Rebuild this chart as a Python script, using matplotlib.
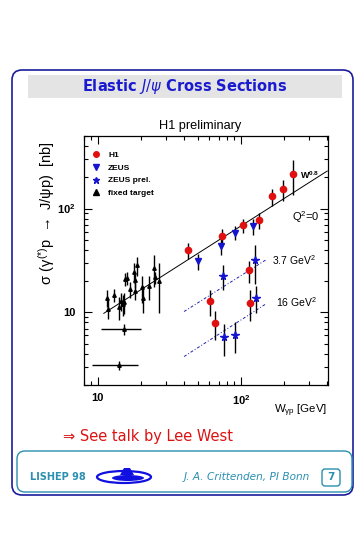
import matplotlib
matplotlib.use('Agg')
import matplotlib.pyplot as plt
from matplotlib.patches import FancyBboxPatch, Ellipse, Polygon
from matplotlib.lines import Line2D
from matplotlib.ticker import LogLocator, NullFormatter, FixedLocator, FixedFormatter

plt.rcParams['font.family'] = ['Liberation Sans', 'DejaVu Sans']
plt.rcParams['mathtext.default'] = 'regular'

# --- data ---
# H1, photoproduction (Q^2 = 0)
h1_w = [42.8, 73.3, 102.8, 134, 165.6, 197, 230]
h1_s = [40, 54, 69, 77, 131, 153, 214]
h1_e = [7, 10, 11, 13, 24, 35, 80]
# H1, electroproduction (3.7 and 16 GeV^2)
h1dis_w = [60.7, 114, 65.8, 115.6]
h1dis_s = [12.9, 25.4, 7.9, 12.3]
h1dis_e = [3.7, 6, 2.5, 4]
# ZEUS
zeus_w = [50.2, 72.1, 90.8, 122]
zeus_s = [31.3, 44, 58.8, 67.6]
zeus_e = [5.5, 8, 9, 12]
# ZEUS preliminary
zprel_w = [75.1, 124.7, 76, 90.8, 126.7]
zprel_s = [22.5, 31.9, 5.8, 6.05, 13.9]
zprel_e = [6, 13, 2, 2, 4]
# fixed target
ft_w = [11.5, 11.8, 12.9, 14.0, 14.4, 14.9, 15.2, 15.5, 16.0, 16.8,
        17.8, 18.1, 18.9, 18.3, 20.2, 20.7, 22.7, 24.6, 24.9, 26.6]
ft_s = [13.9, 10.9, 14.7, 11.2, 12.9, 12.0, 12.5, 20.9, 21.5, 16.7,
        24.6, 20.6, 28.5, 16.1, 17.4, 13.9, 17.8, 26.5, 21.7, 19.9]
ft_e = [2.7, 2.2, 2.0, 2.8, 2.5, 2.7, 2.8, 3, 3, 3,
        5.5, 3.5, 6, 3, 5, 4, 4.5, 9, 3, 10]
# fixed target with wide W bins
ftb_w = [15.2, 14.0]
ftb_s = [6.9, 3.1]
ftb_e = [0.9, 0.3]
ftb_wlo = [10.5, 9.1]
ftb_whi = [20.1, 19.1]
# power-law lines
fit0_w, fit0_s = [11, 400], [9.8, 230]
fit37_w, fit37_s = [40, 152], [10.2, 32.6]
fit16_w, fit16_s = [40, 151], [3.76, 12.2]

navy = '#1c1c9c'
teal = '#2a8fb0'

fig = plt.figure(figsize=(3.63, 5.35), dpi=100)

# slide frame in pixel coordinates
bg = fig.add_axes([0, 0, 1, 1], zorder=0)
bg.set_xlim(0, 363)
bg.set_ylim(535, 0)
bg.axis('off')

bg.add_patch(FancyBboxPatch((12, 70), 341, 425, boxstyle='round,pad=0,rounding_size=10',
                            fc='white', ec=navy, lw=1.2))
bg.add_patch(FancyBboxPatch((28, 75), 314, 23, boxstyle='square,pad=0',
                            fc='#e4e4e4', ec='none'))
bg.text(185, 87, r'Elastic $\it{J/\psi}$ Cross Sections', ha='center', va='center',
        fontsize=10.5, fontweight='bold', color='#1a1ad0', family='DejaVu Sans')

bg.text(200, 126, 'H1 preliminary', ha='center', va='center', fontsize=9.2)
bg.text(47, 213, r'$\sigma\ (\gamma^{(*)}p\ \rightarrow\ J/\psi p)$  [nb]', rotation=90,
        ha='center', va='center', fontsize=10.5)
bg.text(301, 411, r'W$_{\gamma p}$ [GeV]', ha='center', va='center', fontsize=8.2)

bg.text(63, 436, '\u21d2 See talk by Lee West', ha='left', va='center',
        fontsize=10.5, color='#dd1111', family='DejaVu Sans')

# footer
bg.add_patch(FancyBboxPatch((17, 451), 335, 41, boxstyle='round,pad=0,rounding_size=8',
                            fc='white', ec=teal, lw=1.0))
bg.text(30, 477, 'LISHEP 98', ha='left', va='center', fontsize=7,
        fontweight='bold', color=teal, family='DejaVu Sans')
bg.add_patch(Ellipse((124, 477), 54, 12, fc='none', ec='#1010e0', lw=1.6))
bg.add_patch(Ellipse((128, 478), 32, 6, fc='#1010e0', ec='none'))
bg.add_patch(Polygon([[120, 475], [124, 468], [130, 468], [134, 475]], fc='#1010e0', ec='none'))
bg.text(247, 477, 'J. A. Crittenden, PI Bonn', ha='center', va='center', fontsize=7.6,
        style='italic', color=teal, family='DejaVu Sans')
bg.add_patch(FancyBboxPatch((322, 469), 18, 17, boxstyle='round,pad=0,rounding_size=3',
                            fc='white', ec=teal, lw=1.0))
bg.text(331, 477.5, '7', ha='center', va='center', fontsize=7.5, fontweight='bold',
        color=teal, family='DejaVu Sans')

# --- main plot ---
ax = fig.add_axes([84 / 363, 1 - 385 / 535, 244 / 363, 249 / 535], zorder=1)
ax.set_facecolor('none')
ax.set_xscale('log')
ax.set_yscale('log')
ax.set_xlim(8, 405)
ax.set_ylim(2, 500)

ebar = dict(ecolor='black', elinewidth=1.0, capsize=0, linestyle='none')

ax.plot(fit0_w, fit0_s, color='black', lw=0.7)
ax.plot(fit37_w, fit37_s, color='#2020b0', lw=0.7, linestyle=(0, (3, 2, 1, 2)))
ax.plot(fit16_w, fit16_s, color='#2020b0', lw=0.7, linestyle=(0, (3, 2, 1, 2)))

ax.errorbar(ft_w, ft_s, yerr=ft_e, fmt='^', color='black', ms=2.5, **ebar)
ax.errorbar(ftb_w, ftb_s, yerr=ftb_e,
            xerr=[[w - lo for w, lo in zip(ftb_w, ftb_wlo)],
                  [hi - w for w, hi in zip(ftb_w, ftb_whi)]],
            fmt='^', color='black', ms=2.5, **ebar)
ax.errorbar(h1_w, h1_s, yerr=h1_e, fmt='o', color='#e01010', ms=4.5, **ebar)
ax.errorbar(h1dis_w, h1dis_s, yerr=h1dis_e, fmt='o', color='#e01010', ms=4.5, **ebar)
ax.errorbar(zeus_w, zeus_s, yerr=zeus_e, fmt='v', color='#1515d0', ms=4.5, **ebar)
ax.errorbar(zprel_w, zprel_s, yerr=zprel_e, fmt='*', color='#1515d0', ms=5.5, **ebar)

ax.text(300, 209, r'W$^{0.8}$', ha='center', va='center', fontsize=6.5, fontweight='bold')
ax.text(226, 82, r'Q$^2$=0', ha='left', va='center', fontsize=8)
ax.text(164, 31.8, r'3.7 GeV$^2$', ha='left', va='center', fontsize=7.5)
ax.text(176, 12.6, r'16 GeV$^2$', ha='left', va='center', fontsize=7.5)

handles = [
    Line2D([], [], marker='o', color='#e01010', ls='none', ms=4),
    Line2D([], [], marker='v', color='#1515d0', ls='none', ms=4),
    Line2D([], [], marker='*', color='#1515d0', ls='none', ms=5),
    Line2D([], [], marker='^', color='black', ls='none', ms=4),
]
leg = ax.legend(handles, ['H1', 'ZEUS', 'ZEUS prel.', 'fixed target'], loc='upper left',
                bbox_to_anchor=(0.0, 0.97), frameon=False, fontsize=6,
                handlelength=1.0, handletextpad=1.0, labelspacing=0.6, borderaxespad=0.5)
for t in leg.get_texts():
    t.set_fontweight('bold')

ax.xaxis.set_major_locator(FixedLocator([10, 100]))
ax.xaxis.set_major_formatter(FixedFormatter(['10', r'10$^2$']))
ax.yaxis.set_major_locator(FixedLocator([10, 100]))
ax.yaxis.set_major_formatter(FixedFormatter(['10', r'10$^2$']))
ax.xaxis.set_minor_locator(LogLocator(base=10, subs=range(2, 10)))
ax.yaxis.set_minor_locator(LogLocator(base=10, subs=range(2, 10)))
ax.xaxis.set_minor_formatter(NullFormatter())
ax.yaxis.set_minor_formatter(NullFormatter())
ax.tick_params(which='both', direction='in', top=True, right=True, labelsize=8, width=0.8)
ax.tick_params(which='major', length=6, pad=6)
ax.tick_params(which='minor', length=3)
for lab in ax.get_xticklabels() + ax.get_yticklabels():
    lab.set_fontweight('bold')
for s in ax.spines.values():
    s.set_linewidth(0.9)

fig.savefig('out.png', dpi=100)
